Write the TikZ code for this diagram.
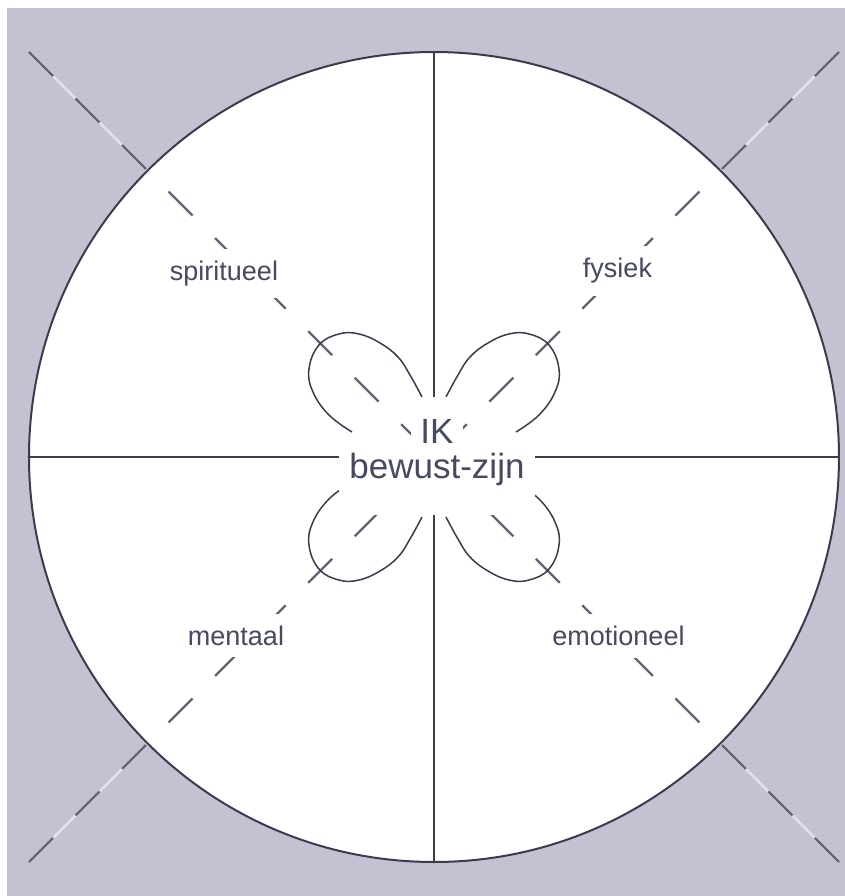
\documentclass[tikz,border=0pt]{standalone}
\usepackage{fontspec}
\setmainfont{Liberation Sans}
\usepackage{tikz}
\usetikzlibrary{calc}
\definecolor{lavender}{RGB}{197,193,211}
\definecolor{ink}{RGB}{58,60,78}
\definecolor{dashgrey}{RGB}{100,99,115}
\definecolor{dashlight}{RGB}{228,226,236}
\definecolor{textink}{RGB}{70,73,96}

\begin{document}
\begin{tikzpicture}[x=0.5pt,y=0.5pt,
	axis/.style={ink, line width=1pt},
	diag/.style={dashgrey, line width=1.2pt, dash pattern=on 17pt off 15.9pt},
	petal/.style={ink, line width=0.75pt},
	aspect/.style={fill=white, text=textink, inner xsep=3pt, inner ysep=6pt,
		font=\fontsize{13.5}{16}\selectfont},
	centre/.style={fill=white, text=textink, anchor=base,
		font=\fontsize{17.5}{21}\selectfont}]
			% Canvas and margins
			\useasboundingbox (-434,457) rectangle (411,-439);
			\fill[white] (-434,457) rectangle (411,-439);
			\fill[lavender] (-427,449) rectangle (411,-439);
			
			% Named points
			\coordinate (O) at (0,0);
			\foreach \name/\ang in {tl/135, tr/45, bl/225, br/315} {
				\coordinate (\name-corner) at (\ang:572.76);
				\coordinate (\name-rim) at (\ang:405);
			}
			\foreach \name/\ang in {top/90, left/180, bottom/270, right/0}
				\coordinate (\name) at (\ang:405);
			
			% Light gaps of the diagonals outside the circle
			\foreach \name in {tl,tr,bl,br}
				\draw[dashlight, line width=1.2pt] (\name-corner) -- (\name-rim);
			
			% Base circle
			\draw[ink, line width=1pt, fill=white] (O) circle (202.5pt);
			
			% Axes
			\draw[axis] (top) -- (bottom);
			\draw[axis] (left) -- (right);
			
			% Dashed diagonals
			\foreach \name in {tl,tr,bl,br}
				\draw[diag] (\name-corner) -- (O);
			
			% Petals (one drawn, mirrored to the others)
			\foreach \sx/\sy in {1/1, -1/1, 1/-1, -1/-1} {
				\begin{scope}[xscale=\sx, yscale=\sy]
					\draw[petal] plot[smooth, tension=0.7] coordinates {
						(-82,25) (-105,42) (-121,65) (-125,88) (-115,112) (-95,123)
						(-75,123) (-54,114) (-36,100) (-24,82) (-12,60)
					};
				\end{scope}
			}
			
			% Aspect labels
			\node[aspect] (spiritueel) at (-210,183.5) {spiritueel};
			\node[aspect] (fysiek) at (183.5,186) {fysiek};
			\node[aspect] (mentaal) at (-198,-178.5) {mentaal};
			\node[aspect] (emotioneel) at (184.5,-179) {emotioneel};
			
			% Centre
			\node[centre, text height=19.5pt, text depth=0pt, inner xsep=4.75pt, inner ysep=3.5pt] (ik) at (3,14) {IK};
			\node[centre, text height=14pt, text depth=17.5pt, inner xsep=5pt, inner ysep=1pt] (bewust) at (3,-21) {bewust-zijn};
		\end{tikzpicture}
\end{document}
